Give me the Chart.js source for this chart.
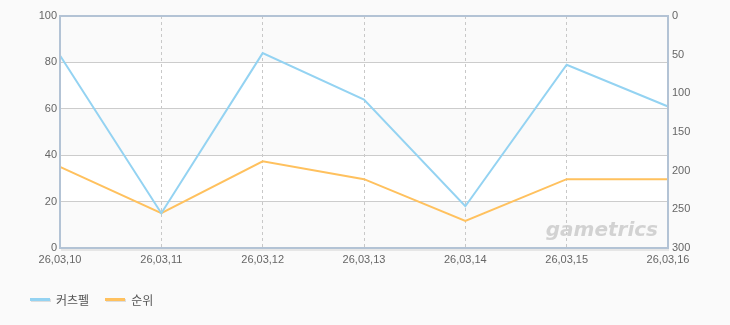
<!DOCTYPE html>
<html>
<head>
<meta charset="utf-8">
<script src="https://cdn.jsdelivr.net/npm/chart.js@4/dist/chart.umd.min.js"></script>
<style>
  html, body { margin: 0; padding: 0; background: #fafafa; }
  #wrap { position: relative; width: 730px; height: 325px; }
  #legend {
    position: absolute; left: 30px; top: 291px;
    font: 12px "Noto Sans CJK KR", sans-serif; color: #555;
    display: flex; align-items: center;
  }
  .item { display: flex; align-items: center; margin-right: 16px; }
  .swatch { width: 20px; height: 3px; margin-right: 6px; box-shadow: 1px 1px 0 #ddd; }
</style>
</head>
<body>
<div id="wrap">
  <canvas id="chart" width="730" height="325"></canvas>
  <div id="legend"></div>
</div>
<script>
const dates = ["26,03,10", "26,03,11", "26,03,12", "26,03,13", "26,03,14", "26,03,15", "26,03,16"]
const ccuValues = [83, 15, 84, 64, 18, 79, 61]
const rankValues = [195, 255, 188, 211, 265, 211, 211]
const seriesNames = ["커츠펠", "순위"]

const COLORS = {
  blue: "#94d3f2",
  orange: "#ffc15e",
  grid: "#cccccc",
  frame: "#b3c3d5",
  tick: "#666666",
}

// alternating bands + frame + watermark
const decor = {
  id: "decor",
  beforeDraw(chart) {
    const { ctx, chartArea: a, scales } = chart
    const y = scales.y
    ctx.save()
    for (let v = 0; v < 100; v += 20) {
      ctx.fillStyle = (v / 20) % 2 === 0 ? "#fafafa" : "#ffffff"
      const top = y.getPixelForValue(v + 20)
      const bot = y.getPixelForValue(v)
      ctx.fillRect(a.left, top, a.right - a.left, bot - top)
    }
    ctx.restore()
  },
  afterDatasetsDraw(chart) {
    const { ctx, chartArea: a } = chart
    ctx.save()
    ctx.font = "italic bold 20px 'DejaVu Sans', sans-serif"
    ctx.fillStyle = "rgba(200,200,200,0.8)"
    ctx.textAlign = "right"
    ctx.textBaseline = "alphabetic"
    ctx.fillText("gametrics", a.right - 10, a.bottom - 12)
    ctx.restore()
  },
  afterDraw(chart) {
    const { ctx, chartArea: a } = chart
    ctx.save()
    ctx.strokeStyle = COLORS.frame
    ctx.lineWidth = 2
    ctx.strokeRect(a.left, a.top, a.right - a.left, a.bottom - a.top)
    ctx.strokeStyle = "#e6e6e6"
    ctx.lineWidth = 2
    ctx.beginPath()
    ctx.moveTo(a.left + 1, a.bottom + 2)
    ctx.lineTo(a.right + 1, a.bottom + 2)
    ctx.stroke()
    ctx.restore()
  },
}

const tickFont = { family: "'Liberation Sans', Arial, sans-serif", size: 11 }

new Chart(document.getElementById("chart"), {
  type: "line",
  data: {
    labels: dates,
    datasets: [
      {
        label: seriesNames[0],
        data: ccuValues,
        borderColor: COLORS.blue,
        backgroundColor: COLORS.blue,
        borderWidth: 2,
        pointRadius: 0,
        tension: 0,
        yAxisID: "y",
      },
      {
        label: seriesNames[1],
        data: rankValues,
        borderColor: COLORS.orange,
        backgroundColor: COLORS.orange,
        borderWidth: 2,
        pointRadius: 0,
        tension: 0,
        yAxisID: "y1",
      },
    ],
  },
  options: {
    responsive: false,
    animation: false,
    layout: { padding: { top: 16, left: 0, right: 0, bottom: 0 } },
    plugins: {
      legend: { display: false },
      tooltip: { enabled: false },
    },
    scales: {
      x: {
        offset: false,
        grid: { color: "#c8c8c8", drawTicks: false },
        border: { display: false, dash: [3, 3] },
        ticks: { color: COLORS.tick, font: tickFont, padding: 5, maxRotation: 0, autoSkip: false },
        afterFit(scale) { scale.height = 77 },
      },
      y: {
        position: "left",
        min: 0,
        max: 100,
        ticks: { stepSize: 20, color: COLORS.tick, font: tickFont, padding: 3 },
        grid: { color: COLORS.grid, drawTicks: false },
        border: { display: false },
        afterFit(scale) { scale.width = 60 },
      },
      y1: {
        position: "right",
        reverse: true,
        min: 0,
        max: 300,
        ticks: { stepSize: 50, color: COLORS.tick, font: tickFont, padding: 4 },
        grid: { drawOnChartArea: false, drawTicks: false },
        border: { display: false },
        afterFit(scale) { scale.width = 62 },
      },
    },
  },
  plugins: [decor],
})

const legend = document.getElementById("legend")
;[COLORS.blue, COLORS.orange].forEach((color, i) => {
  const item = document.createElement("div")
  item.className = "item"
  const sw = document.createElement("span")
  sw.className = "swatch"
  sw.style.background = color
  const txt = document.createElement("span")
  txt.textContent = seriesNames[i]
  item.append(sw, txt)
  legend.append(item)
})
</script>
</body>
</html>
